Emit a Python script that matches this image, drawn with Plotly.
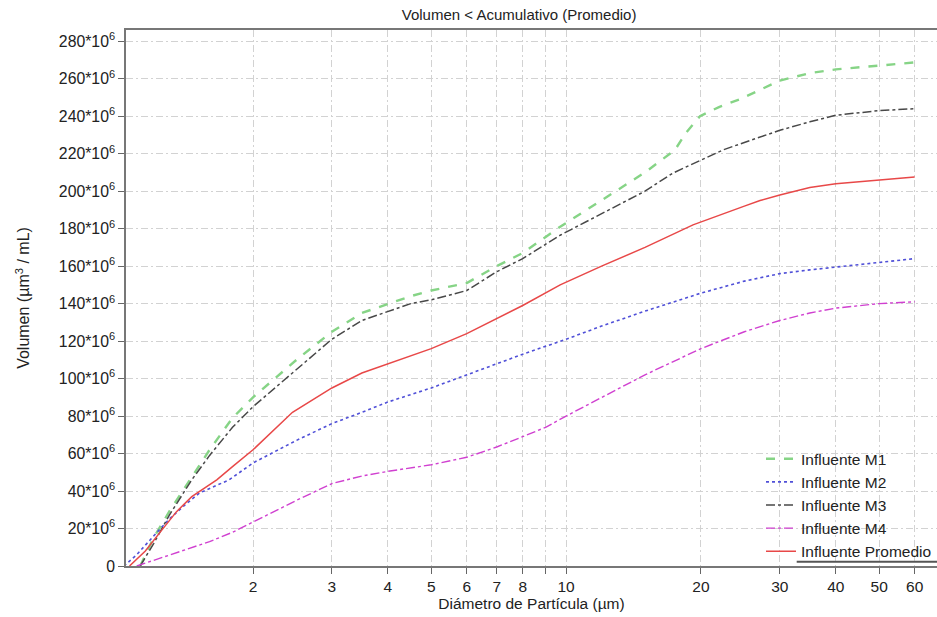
import plotly.graph_objects as go

# ---- data (values in millions of µm^3/mL) ----
m1_x = [1.12, 1.2, 1.3, 1.45, 1.6, 1.8, 2.0, 2.5, 3.0, 3.5, 4, 4.5, 5, 6, 7, 8, 9.7, 12, 13.7, 15, 17.5, 18.5, 19.9, 22, 24.4, 27, 30, 35, 40, 50, 62]
m1_y = [0, 15, 29, 46, 62, 79, 90, 110, 125, 135, 140, 144, 147, 151, 160, 167, 181, 195, 204, 210, 222, 231, 240, 245, 249, 254, 259, 263, 265, 267, 269]

m2_x = [1.03, 1.1, 1.2, 1.3, 1.4, 1.52, 1.77, 2.0, 2.5, 3, 3.5, 4, 5, 6, 7, 8, 10, 12, 15, 20, 25, 30, 35, 40, 50, 60]
m2_y = [0, 6, 16, 25, 32, 39, 46, 55, 67, 76, 82, 87.5, 95, 102, 108, 113, 121, 128, 136, 145.6, 152, 156, 158, 159.5, 162, 164]

m3_x = [1.12, 1.2, 1.3, 1.46, 1.6, 1.8, 2.0, 2.5, 3, 3.5, 4, 4.5, 5, 6, 7, 8, 9.7, 12, 15, 17.3, 20, 22.4, 25, 30, 35, 40, 50, 60]
m3_y = [0, 12, 27, 46, 59, 74, 85, 105, 121, 131, 136, 140, 142, 147, 157, 164, 176.5, 188, 200, 209.6, 216.5, 222, 226, 232.5, 237, 240.5, 243, 244]

m4_x = [1.1, 1.2, 1.4, 1.6, 1.8, 2.0, 2.5, 3, 3.5, 4, 5, 6, 7, 8, 9, 10, 12, 15, 20, 25, 30, 35, 40, 50, 60]
m4_y = [0, 3, 8, 13, 18, 23.5, 35, 44, 48, 50.5, 54, 58, 63.5, 69, 74, 80, 90, 102, 116, 125, 131, 135, 137.6, 140, 141]

prom_x = [1.06, 1.15, 1.25, 1.35, 1.46, 1.66, 1.8, 2.0, 2.45, 3, 3.5, 4, 5, 6, 7, 8, 9.7, 12, 15, 19.2, 25, 27.1, 30, 35, 40, 50, 60]
prom_y = [0, 8, 19, 29, 37, 46, 53, 62, 82, 95, 103, 108, 116, 124, 132, 139, 150, 160, 170, 182, 192, 195, 198, 202, 204, 206, 207.5]

y_ticks = [0, 20, 40, 60, 80, 100, 120, 140, 160, 180, 200, 220, 240, 260, 280]
x_ticks = [2, 3, 4, 5, 6, 7, 8, 9, 10, 20, 30, 40, 50, 60]
x_ticklabels = ["2", "3", "4", "5", "6", "7", "8", "", "10", "20", "30", "40", "50", "60"]

SCALE = 1e6
def sc(v):
    return [a * SCALE for a in v]

FONT = "Liberation Sans, Arial, sans-serif"
GRID = "#d2d2d2"
GRIDDASH = "7px,3px,2px,3px"

fig = go.Figure()
fig.add_trace(go.Scatter(x=m1_x, y=sc(m1_y), mode="lines", name="Influente M1",
                         line=dict(color="#86d486", width=2.4, dash="dash")))
fig.add_trace(go.Scatter(x=m2_x, y=sc(m2_y), mode="lines", name="Influente M2",
                         line=dict(color="#5050d8", width=1.6, dash="dot")))
fig.add_trace(go.Scatter(x=m3_x, y=sc(m3_y), mode="lines", name="Influente M3",
                         line=dict(color="#484848", width=1.5, dash="dashdot")))
fig.add_trace(go.Scatter(x=m4_x, y=sc(m4_y), mode="lines", name="Influente M4",
                         line=dict(color="#d040d0", width=1.4, dash="dashdot")))
fig.add_trace(go.Scatter(x=prom_x, y=sc(prom_y), mode="lines", name="Influente Promedio",
                         line=dict(color="#e84848", width=1.5)))

y_text = ["0" if v == 0 else f"{v}*10<sup>6</sup>" for v in y_ticks]

fig.update_layout(
    width=937, height=617,
    margin=dict(l=126, r=0, t=30, b=51),
    paper_bgcolor="white", plot_bgcolor="white",
    font=dict(family=FONT, size=15, color="#222222"),
    title=dict(text="Volumen < Acumulativo (Promedio)", x=0.554, xanchor="center",
               y=1 - 15 / 617, yanchor="middle", yref="container",
               font=dict(size=15, color="#222222")),
    showlegend=True,
    legend=dict(x=1, xanchor="right", y=-0.004, yanchor="bottom",
                bgcolor="rgba(255,255,255,0)", borderwidth=0,
                font=dict(size=15.5, color="#222222"),
                tracegroupgap=0, itemwidth=30),
    xaxis=dict(type="log", range=[0.0175, 1.828],
               tickvals=x_ticks, ticktext=x_ticklabels,
               showgrid=True, gridcolor=GRID, griddash=GRIDDASH, gridwidth=1,
               ticks="outside", ticklen=6, tickcolor="#666666",
               showline=True, linecolor="#777777", linewidth=1.5, mirror=True,
               zeroline=False,
               title=dict(text="Diámetro de Partícula (µm)", standoff=2,
                          font=dict(size=15.5)),
               tickfont=dict(size=15.5)),
    yaxis=dict(range=[0, 286e6],
               tickvals=sc(y_ticks), ticktext=y_text,
               showgrid=True, gridcolor=GRID, griddash=GRIDDASH, gridwidth=1,
               ticks="outside", ticklen=6, tickcolor="#666666",
               showline=True, linecolor="#777777", linewidth=1.5, mirror=False,
               zeroline=False,
               title=dict(text="Volumen (µm<sup>3</sup> / mL)", standoff=25,
                          font=dict(size=16)),
               tickfont=dict(size=15.8)),
    shapes=[dict(type="line", xref="paper", yref="paper", layer="above",
                 x0=0.827, x1=1.0, y0=0.008, y1=0.008,
                 line=dict(color="#555555", width=2))],
)

fig.write_html("out.html")
